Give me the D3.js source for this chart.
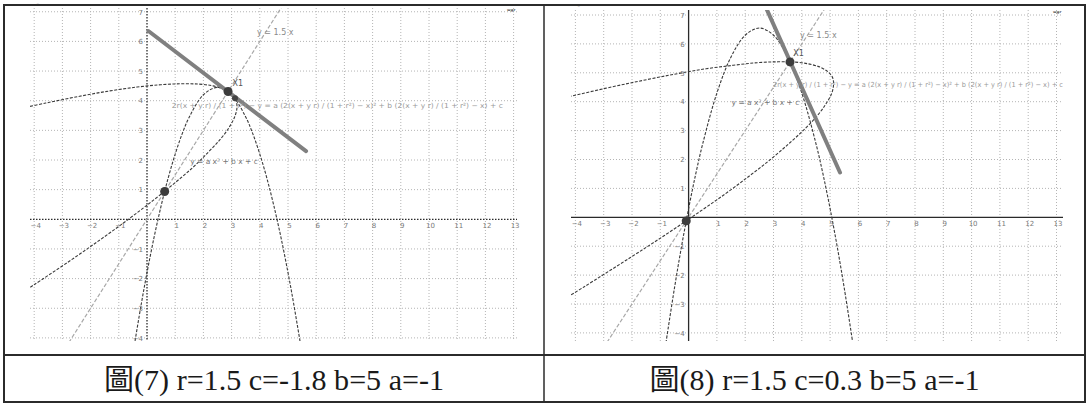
<!DOCTYPE html>
<html>
<head>
<meta charset="utf-8">
<script src="https://cdn.jsdelivr.net/npm/d3@7/dist/d3.min.js"></script>
<style>
  body { margin: 0; background: #fff; }
  svg { display: block; }
</style>
</head>
<body>
<svg id="chart" width="1089" height="405"></svg>
<script>
// ---- data ----
const xTicks = [-4, -3, -2, -1, 1, 2, 3, 4, 5, 6, 7, 8, 9, 10, 11, 12, 13];
const yTicks = [-4, -3, -2, -1, 1, 2, 3, 4, 5, 6, 7];

const captions = ["圖(7) r=1.5 c=-1.8 b=5 a=-1", "圖(8) r=1.5 c=0.3 b=5 a=-1"];

const lineLabel = "y = 1.5 x";
const pointLabel = "X1";
const parabLabel = "y = a x² + b x + c";
const eqLabel = "2r(x + y r) / (1 + r²) − y = a (2(x + y r) / (1 + r²) − x)² + b (2(x + y r) / (1 + r²) − x) + c";

// mirror line y = 1.5x (same in both pictures)
const mirrorLine = [[-3, -4.5], [5, 7.5]];

// fig 7
const parab7 = [[-0.45, -4.25], [-0.2, -2.84], [0, -1.8], [0.25, -0.61], [0.5, 0.45], [0.75, 1.39],
  [1, 2.2], [1.25, 2.89], [1.5, 3.45], [2, 4.2], [2.5, 4.45], [3, 4.2], [3.5, 3.45], [3.75, 2.89],
  [4, 2.2], [4.25, 1.39], [4.5, 0.45], [4.75, -0.61], [5, -1.8], [5.2, -2.84], [5.45, -4.25]];
const mirror7 = [[-4.27, -2.37], [-4.01, -2.21], [-2.78, -1.43], [-1.66, -0.69], [-0.66, 0.0],
  [0.22, 0.64], [0.99, 1.23], [1.65, 1.77], [2.18, 2.27], [2.61, 2.71], [2.92, 3.11], [3.11, 3.46],
  [3.19, 3.76], [3.15, 4.02], [2.99, 4.23], [2.72, 4.39], [2.34, 4.5], [1.84, 4.56], [1.22, 4.57],
  [0.49, 4.54], [-0.35, 4.46], [-1.32, 4.33], [-2.39, 4.15], [-3.59, 3.92], [-4.62, 3.71]];
const tangent7 = [[0.05, 6.35], [5.64, 2.3]];
const bigDots7 = [[0.626, 0.939], [2.874, 4.311]];
const smallDots7 = [[3.12, 4.08]];

// fig 8
const parab8 = [[-0.8, -4.34], [-0.5, -2.45], [-0.25, -1.01], [0, 0.3], [0.25, 1.49], [0.5, 2.55],
  [1, 4.3], [1.5, 5.55], [2, 6.3], [2.5, 6.55], [3, 6.3], [3.5, 5.55], [4, 4.3], [4.5, 2.55],
  [4.75, 1.49], [5, 0.3], [5.25, -1.01], [5.5, -2.45], [5.8, -4.34]];
const mirror8 = [[-4.28, -2.76], [-3.7, -2.41], [-2.07, -1.4], [-0.84, -0.62], [0.28, 0.12],
  [1.28, 0.8], [2.16, 1.44], [2.93, 2.03], [3.58, 2.58], [4.12, 3.07], [4.55, 3.52], [4.85, 3.92],
  [5.05, 4.27], [5.12, 4.57], [5.09, 4.83], [4.93, 5.03], [4.66, 5.19], [4.28, 5.3], [3.78, 5.37],
  [3.16, 5.38], [2.43, 5.35], [1.58, 5.26], [0.62, 5.14], [-0.45, 4.96], [-1.65, 4.73],
  [-2.95, 4.46], [-4.38, 4.14]];
const tangent8 = [[2.75, 7.22], [5.35, 1.55]];
const bigDots8 = [[-0.084, -0.126], [3.584, 5.376]];
const smallDots8 = [];

// ---- layout ----
const svg = d3.select("#chart");

var panels = [
  {
    id: "p7", parab: parab7, mirror: mirror7, tangent: tangent7, big: bigDots7, small: smallDots7,
    xr: [34.2, 513.6], yr: [337.9, 11.75], clip: [30, 8, 517, 341], axisDash: "1.5,1.5",
    lineAt: [3.9, 6.2], ptAt: [3.03, 4.5], eqAt: [0.88, 3.77], eqLen: 331, parAt: [1.53, 1.85],
    cell: [4, 544], capLen: 340
  },
  {
    id: "p8", parab: parab8, mirror: mirror8, tangent: tangent8, big: bigDots8, small: smallDots8,
    xr: [575.4, 1056.5], yr: [332.9, 15.0], clip: [571, 10, 1063, 341], axisDash: null,
    lineAt: [3.94, 6.19], ptAt: [3.7, 5.58], eqAt: [2.98, 4.51], eqLen: 290, parAt: [1.52, 3.9],
    cell: [544, 1085], capLen: 330
  }
];

panels.forEach(function(p, i) { drawPanel(p, i); });

function drawPanel(p, i) {
  const x = d3.scaleLinear().domain([-4, 13]).range(p.xr);
  const y = d3.scaleLinear().domain([-4, 7]).range(p.yr);
  const [cx0, cy0, cx1, cy1] = p.clip;

  svg.append("clipPath").attr("id", "clip-" + p.id)
    .append("rect")
    .attr("x", cx0).attr("y", cy0)
    .attr("width", cx1 - cx0).attr("height", cy1 - cy0);

  const g = svg.append("g").attr("clip-path", "url(#clip-" + p.id + ")");

  // grid
  g.append("g").selectAll("line")
    .data(xTicks)
    .enter().append("line")
    .attr("x1", d => x(d)).attr("x2", d => x(d))
    .attr("y1", cy0).attr("y2", cy1)
    .attr("stroke", "#b4b4b4").attr("stroke-width", 1)
    .attr("stroke-dasharray", "1,2");
  g.append("g").selectAll("line")
    .data(yTicks)
    .enter().append("line")
    .attr("x1", cx0).attr("x2", cx1)
    .attr("y1", d => y(d)).attr("y2", d => y(d))
    .attr("stroke", "#b4b4b4").attr("stroke-width", 1)
    .attr("stroke-dasharray", "1,2");

  // axes lines
  g.append("line")
    .attr("x1", cx0).attr("x2", cx1).attr("y1", y(0)).attr("y2", y(0))
    .attr("stroke", "#2a2a2a").attr("stroke-width", 1.3)
    .attr("stroke-dasharray", p.axisDash);
  g.append("line")
    .attr("x1", x(0)).attr("x2", x(0)).attr("y1", cy0).attr("y2", cy1)
    .attr("stroke", "#2a2a2a").attr("stroke-width", 1.3)
    .attr("stroke-dasharray", p.axisDash);

  // tick labels (not clipped)
  const xa = svg.append("g")
    .attr("transform", "translate(1," + y(0) + ")")
    .call(d3.axisBottom(x).tickValues(xTicks).tickSize(0).tickPadding(4));
  const ya = svg.append("g")
    .attr("transform", "translate(" + (x(0) - 1) + ",0)")
    .call(d3.axisLeft(y).tickValues(yTicks).tickSize(0).tickPadding(3));
  [xa, ya].forEach(function(a) {
    a.select(".domain").remove();
    a.selectAll("text")
      .attr("fill", "#7a7a7a")
      .style("font-family", "DejaVu Sans, sans-serif")
      .style("font-size", "7px");
  });

  const line = d3.line().x(d => x(d[0])).y(d => y(d[1]));
  const curve = d3.line().x(d => x(d[0])).y(d => y(d[1])).curve(d3.curveCatmullRom);

  // mirror line y = 1.5x
  g.append("path")
    .datum(mirrorLine)
    .attr("d", line)
    .attr("fill", "none")
    .attr("stroke", "#a8a8a8").attr("stroke-width", 1.2)
    .attr("stroke-dasharray", "4,2");

  // parabola and its mirror image
  g.append("path")
    .datum(p.parab)
    .attr("d", curve)
    .attr("fill", "none")
    .attr("stroke", "#3a3a3a").attr("stroke-width", 1.1)
    .attr("stroke-dasharray", "3,1.5");
  g.append("path")
    .datum(p.mirror)
    .attr("d", curve)
    .attr("fill", "none")
    .attr("stroke", "#3a3a3a").attr("stroke-width", 1.1)
    .attr("stroke-dasharray", "3,1.5");

  // thick tangent line
  g.append("path")
    .datum(p.tangent)
    .attr("d", line)
    .attr("fill", "none")
    .attr("stroke", "#808080").attr("stroke-width", 4)
    .attr("stroke-linecap", "round");

  // labels
  const lab = g.append("g")
    .style("font-family", "DejaVu Sans, sans-serif")
    .attr("fill", "#8a8a8a");
  lab.append("text")
    .attr("x", x(p.lineAt[0])).attr("y", y(p.lineAt[1]))
    .style("font-size", "8px")
    .text(lineLabel);
  lab.append("text")
    .attr("x", x(p.ptAt[0])).attr("y", y(p.ptAt[1]))
    .style("font-size", "8px")
    .attr("fill", "#555")
    .text(pointLabel);
  lab.append("text")
    .attr("x", x(p.eqAt[0])).attr("y", y(p.eqAt[1]))
    .style("font-size", "7px")
    .attr("fill", "#999")
    .attr("textLength", p.eqLen)
    .attr("lengthAdjust", "spacingAndGlyphs")
    .text(eqLabel);
  lab.append("text")
    .attr("x", x(p.parAt[0])).attr("y", y(p.parAt[1]))
    .style("font-size", "7.5px")
    .attr("fill", "#777")
    .text(parabLabel);

  // points
  g.append("g").selectAll("circle")
    .data(p.big)
    .enter().append("circle")
    .attr("cx", d => x(d[0])).attr("cy", d => y(d[1]))
    .attr("r", 4.5)
    .attr("fill", "#3c3c3c");
  g.append("g").selectAll("circle")
    .data(p.small)
    .enter().append("circle")
    .attr("cx", d => x(d[0])).attr("cy", d => y(d[1]))
    .attr("r", 3)
    .attr("fill", "#444");

  // little style-bar glyphs in the corners
  svg.append("text")
    .attr("x", cx1 - 10).attr("y", cy0 + 5)
    .style("font-family", "DejaVu Sans, sans-serif")
    .style("font-size", "6px").style("font-weight", "bold")
    .attr("fill", "#444")
    .text("ʷᵍʳ");
  svg.append("text")
    .attr("x", cx0 + 6).attr("y", cy0 + 1)
    .style("font-family", "DejaVu Sans, sans-serif")
    .style("font-size", "7px")
    .attr("fill", "#888")
    .text("ˉ");

  // caption
  svg.append("text")
    .attr("x", (p.cell[0] + p.cell[1]) / 2 - p.capLen / 2)
    .attr("y", 390)
    .attr("font-family", "Liberation Serif, Noto Sans CJK TC, serif")
    .style("font-size", "29px")
    .attr("fill", "#1a1a1a")
    .attr("textLength", p.capLen)
    .attr("lengthAdjust", "spacingAndGlyphs")
    .text(captions[i]);
}

// table borders
svg.append("rect")
  .attr("x", 4).attr("y", 5).attr("width", 1081).attr("height", 397)
  .attr("fill", "none").attr("stroke", "#2b2b2b").attr("stroke-width", 2);
svg.append("line")
  .attr("x1", 544).attr("x2", 544).attr("y1", 5).attr("y2", 402)
  .attr("stroke", "#2b2b2b").attr("stroke-width", 1.5);
svg.append("line")
  .attr("x1", 4).attr("x2", 1085).attr("y1", 355).attr("y2", 355)
  .attr("stroke", "#2b2b2b").attr("stroke-width", 2);
</script>
</body>
</html>
